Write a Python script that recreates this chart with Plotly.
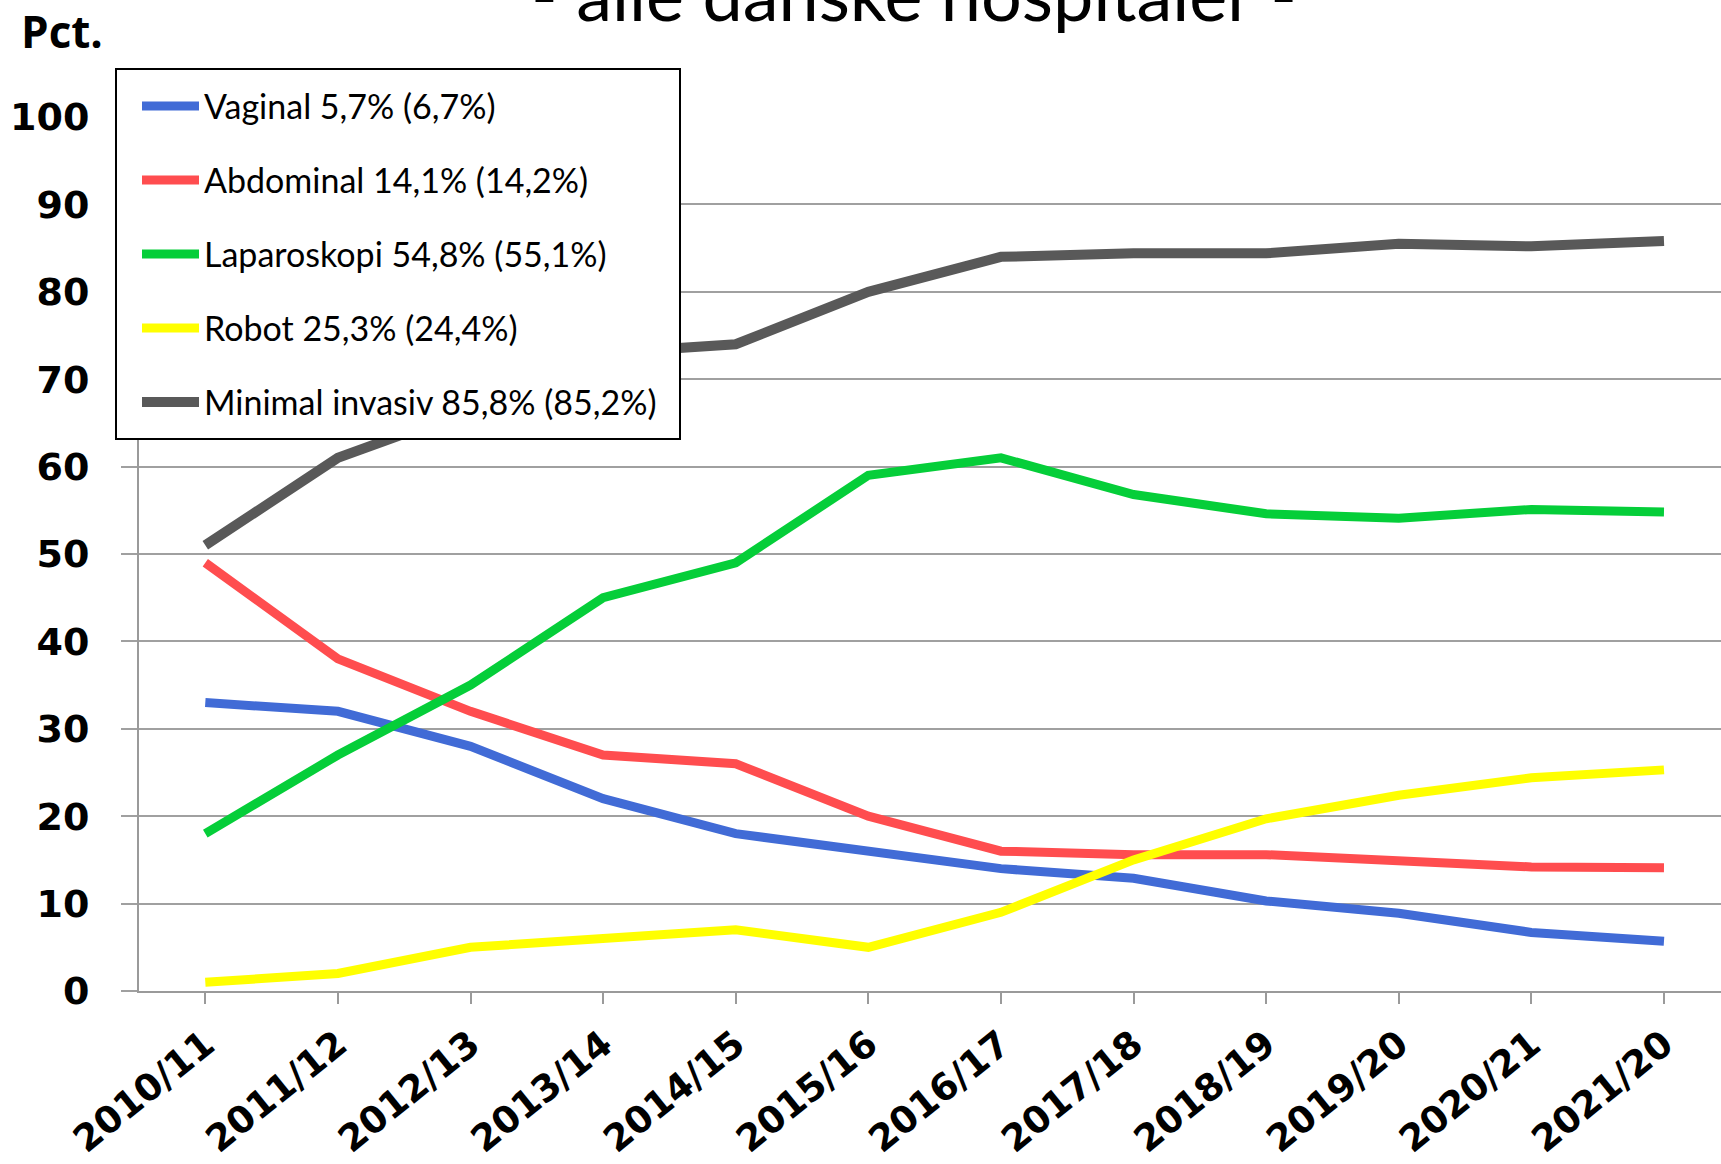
import plotly.graph_objects as go

categories = ["2010/11", "2011/12", "2012/13", "2013/14", "2014/15", "2015/16",
              "2016/17", "2017/18", "2018/19", "2019/20", "2020/21", "2021/20"]

vaginal = [33.0, 32.0, 28.0, 22.0, 18.0, 16.0, 14.0, 12.9, 10.3, 8.9, 6.7, 5.7]
abdominal = [49.0, 38.0, 32.0, 27.0, 26.0, 20.0, 16.0, 15.6, 15.6, 14.9, 14.2, 14.1]
laparoskopi = [18.0, 27.0, 35.0, 45.0, 49.0, 59.0, 61.0, 56.8, 54.6, 54.1, 55.1, 54.8]
robot = [1.0, 2.0, 5.0, 6.0, 7.0, 5.0, 9.0, 15.0, 19.7, 22.4, 24.4, 25.3]
minimal = [51.0, 61.0, 66.5, 73.0, 74.0, 80.0, 84.0, 84.4, 84.4, 85.5, 85.2, 85.8]

series_names = ["Vaginal 5,7% (6,7%)", "Abdominal 14,1% (14,2%)",
                "Laparoskopi 54,8% (55,1%)", "Robot 25,3% (24,4%)",
                "Minimal invasiv 85,8% (85,2%)"]
series_values = [vaginal, abdominal, laparoskopi, robot, minimal]
series_colors = ["#416BD6", "#FF4D4F", "#05CE39", "#FFFF00", "#595959"]
series_widths = [9, 9, 9, 9, 10]

y_ticks = [0, 10, 20, 30, 40, 50, 60, 70, 80, 90, 100]

title_text = "- alle danske hospitaler -"
y_unit_text = "Pct."

W, H = 1721, 1164
ML, MR, MT, MB = 139, 0, 117, 173
plot_w = W - ML - MR
plot_h = H - MT - MB

fig = go.Figure()
for i, (name, vals, col, lw) in enumerate(zip(series_names, series_values,
                                              series_colors, series_widths)):
    fig.add_trace(go.Scatter(
        x=list(range(len(categories))), y=vals, mode="lines", name=name,
        line=dict(color=col, width=lw), legendgroup=f"g{i}",
        hoverinfo="skip"))

def px_to_paper_x(px):
    return (px - ML) / plot_w

def px_to_paper_y(py):
    return (H - MB - py) / plot_h

LEGEND_FONT = "Lato, Liberation Sans Narrow, sans-serif"

fig.update_layout(
    width=W, height=H,
    margin=dict(l=ML, r=MR, t=MT, b=MB, pad=0, autoexpand=False),
    paper_bgcolor="white", plot_bgcolor="white",
    hovermode=False,
    showlegend=True,
    legend=dict(
        x=px_to_paper_x(137), y=px_to_paper_y(77.4), xanchor="left", yanchor="top",
        bgcolor="rgba(0,0,0,0)", borderwidth=0,
        font=dict(family=LEGEND_FONT, size=34, color="black"),
        traceorder="grouped", tracegroupgap=26.8, itemwidth=57,
    ),
    xaxis=dict(
        range=[-0.5, 11.43], tickmode="array", automargin=False,
        tickvals=list(range(len(categories))), ticktext=categories,
        tickangle=-39, showgrid=False, zeroline=False,
        showline=True, linecolor="#9A9A9A", linewidth=2,
        ticks="outside", ticklen=11, tickwidth=2, tickcolor="#9A9A9A",
        tickfont=dict(family="DejaVu Sans", size=37, color="black", weight="bold"),
        ticklabelstandoff=4,
    ),
    yaxis=dict(
        range=[0, 100], tickmode="array", tickvals=y_ticks, automargin=False,
        showgrid=True, gridcolor="#A0A0A0", gridwidth=2, zeroline=False,
        showline=True, linecolor="#9A9A9A", linewidth=2,
        ticks="outside", ticklen=16, tickwidth=2, tickcolor="#A0A0A0",
        tickfont=dict(family="DejaVu Sans", size=38, color="black", weight="bold"),
        ticklabelstandoff=24,
    ),
    shapes=[
        dict(type="rect", xref="paper", yref="paper", layer="above",
             x0=px_to_paper_x(116), x1=px_to_paper_x(680),
             y0=px_to_paper_y(439), y1=px_to_paper_y(69),
             fillcolor="white", line=dict(color="black", width=2)),
    ],
    annotations=[
        dict(text=title_text, xref="paper", yref="paper",
             x=px_to_paper_x(913.5), y=px_to_paper_y(-7), xanchor="center", yanchor="middle",
             showarrow=False,
             font=dict(family="Lato", size=72, color="black")),
        dict(text=y_unit_text, xref="paper", yref="paper",
             x=px_to_paper_x(19), y=px_to_paper_y(31), xanchor="left", yanchor="middle",
             showarrow=False,
             font=dict(family="Open Sans", size=44, color="black", weight="bold")),
    ],
)

fig.write_html("out.html", config={"displayModeBar": False},
               post_script="document.body.style.margin='0';")
